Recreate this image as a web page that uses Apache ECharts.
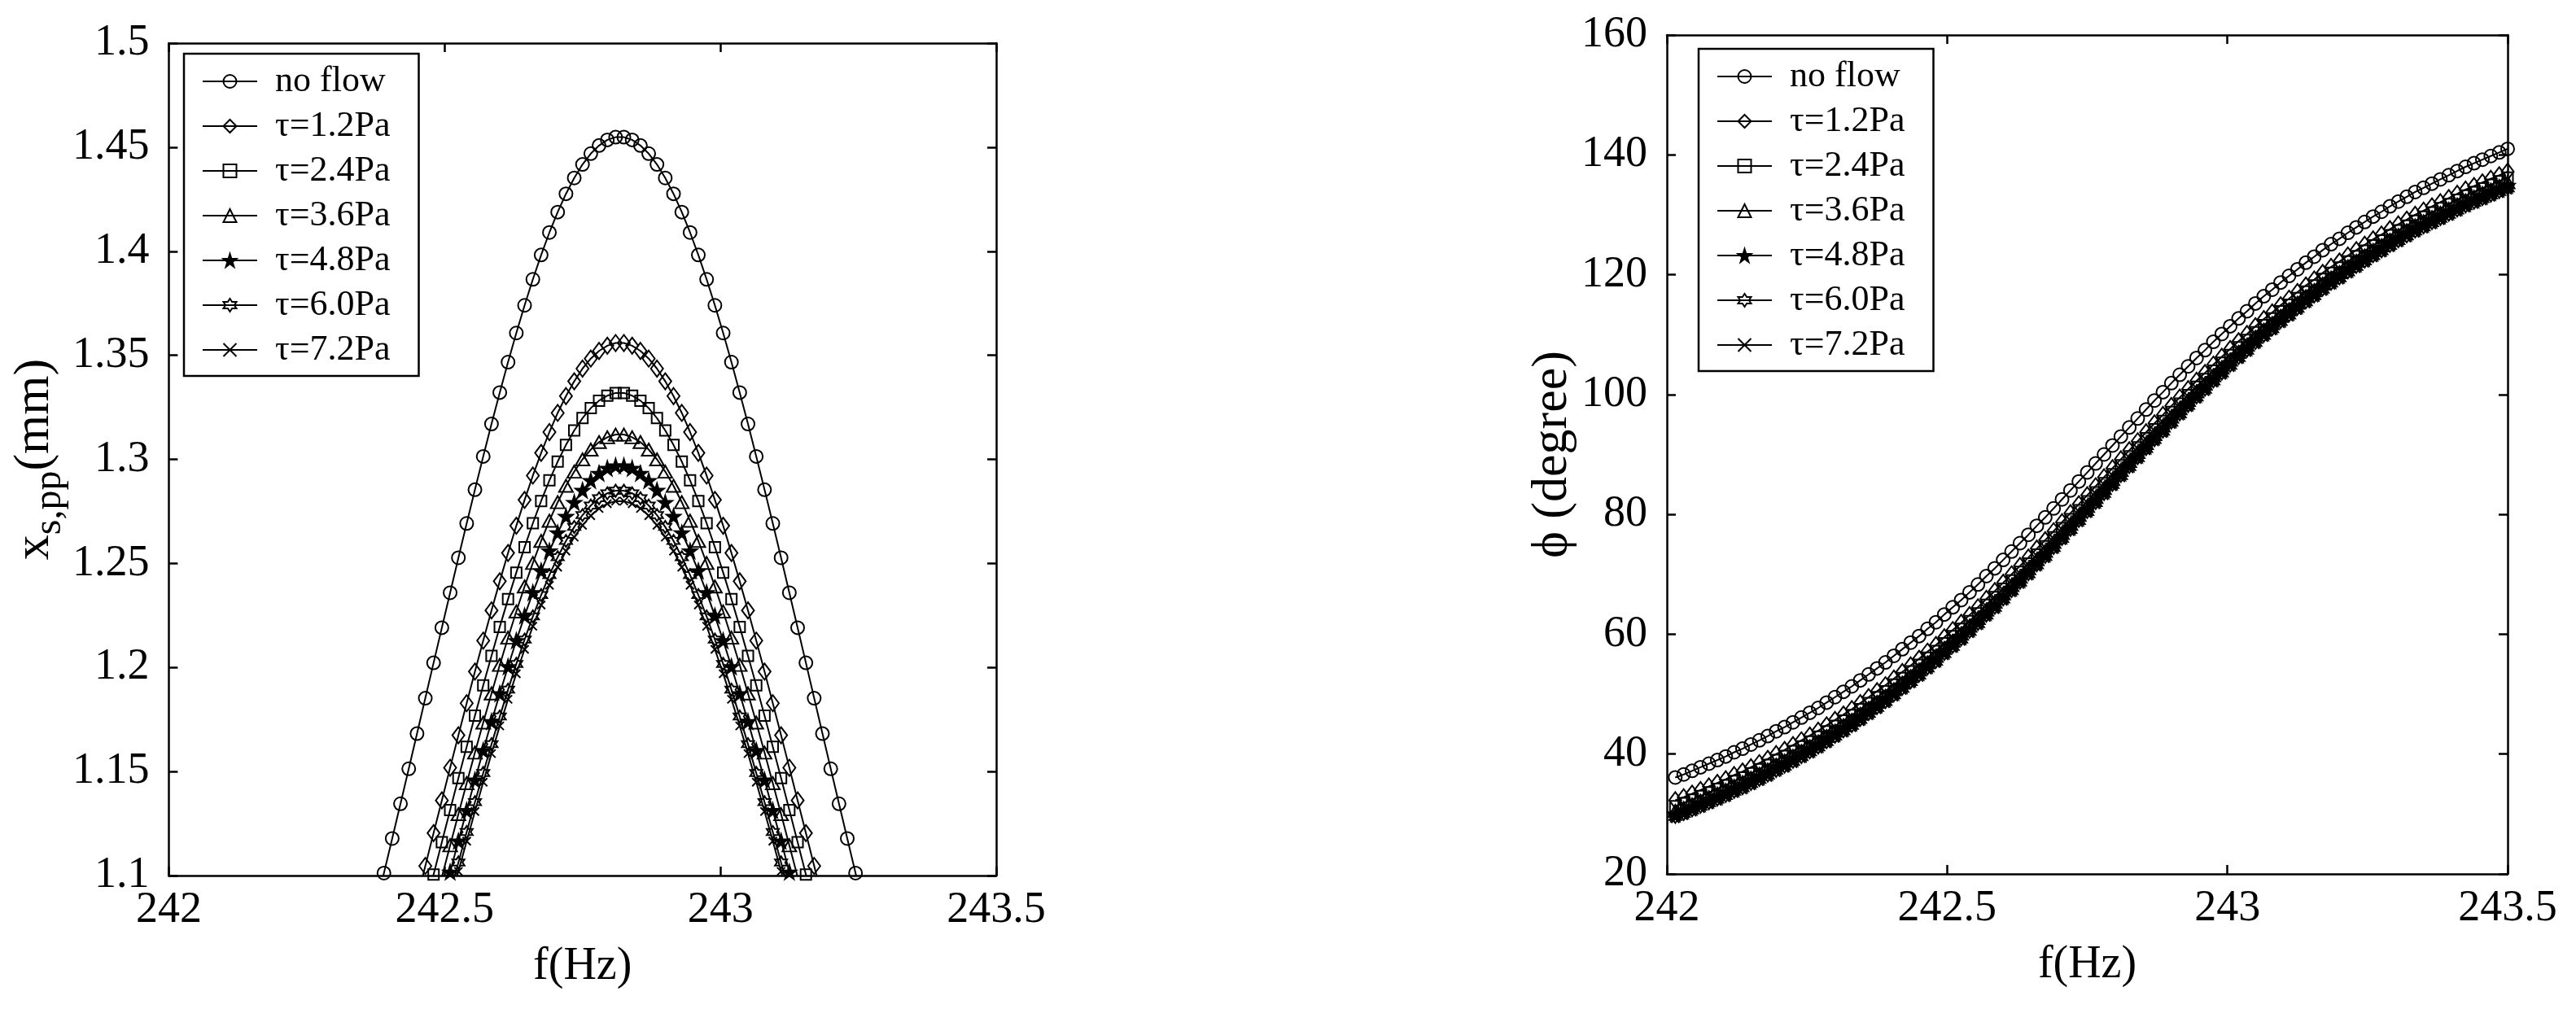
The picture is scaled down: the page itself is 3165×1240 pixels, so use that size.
<!DOCTYPE html>
<html><head><meta charset="utf-8">
<script src="https://cdn.jsdelivr.net/npm/echarts@6/dist/echarts.min.js"></script>
<style>html,body{margin:0;padding:0;background:#fff}#c{width:3165px;height:1240px}</style>
</head><body><div id="c"></div>
<script>
// Frequency samples (Hz)
const freq = [
242.015,242.03,242.045,242.06,242.075,242.09,242.105,242.12,242.135,242.15,
242.165,242.18,242.195,242.21,242.225,242.24,242.255,242.27,242.285,242.3,
242.315,242.33,242.345,242.36,242.375,242.39,242.405,242.42,242.435,242.45,
242.465,242.48,242.495,242.51,242.525,242.54,242.555,242.57,242.585,242.6,
242.615,242.63,242.645,242.66,242.675,242.69,242.705,242.72,242.735,242.75,
242.765,242.78,242.795,242.81,242.825,242.84,242.855,242.87,242.885,242.9,
242.915,242.93,242.945,242.96,242.975,242.99,243.005,243.02,243.035,243.05,
243.065,243.08,243.095,243.11,243.125,243.14,243.155,243.17,243.185,243.2,
243.215,243.23,243.245,243.26,243.275,243.29,243.305,243.32,243.335,243.35,
243.365,243.38,243.395,243.41,243.425,243.44,243.455,243.47,243.485,243.5];

const seriesNames = ['no flow','τ=1.2Pa','τ=2.4Pa','τ=3.6Pa','τ=4.8Pa','τ=6.0Pa','τ=7.2Pa'];

// Amplitude x_s,pp (mm): values start at freq index given by *From
const ampNoFlowFrom = 24;
const ampNoFlow = [1.0848,1.1012,1.1178,1.1345,1.1513,1.1682,1.1852,1.2022,1.2191,1.2359,
1.2527,1.2692,1.2854,1.3014,1.3170,1.3321,1.3467,1.3607,1.3740,1.3865,
1.3982,1.4090,1.4188,1.4276,1.4352,1.4417,1.4469,1.4508,1.4535,1.4548,
1.4548,1.4535,1.4508,1.4469,1.4417,1.4352,1.4276,1.4188,1.4090,1.3982,
1.3865,1.3740,1.3607,1.3467,1.3321,1.3170,1.3014,1.2854,1.2692,1.2527,
1.2359,1.2191,1.2022,1.1852,1.1682,1.1513,1.1345,1.1178,1.1012,1.0848];
const amp12From = 29;
const amp12 = [1.0887,1.1046,1.1204,1.1361,1.1518,1.1674,1.1828,1.1980,1.2129,1.2274,
1.2414,1.2550,1.2681,1.2805,1.2922,1.3031,1.3131,1.3223,1.3304,1.3375,
1.3436,1.3484,1.3521,1.3546,1.3559,
1.3559,1.3546,1.3521,1.3484,1.3436,1.3375,1.3304,1.3223,1.3131,1.3031,
1.2922,1.2805,1.2681,1.2550,1.2414,1.2274,1.2129,1.1980,1.1828,1.1674,
1.1518,1.1361,1.1204,1.1046,1.0887];
const amp24From = 30;
const amp24 = [1.0850,1.1005,1.1160,1.1315,1.1468,1.1619,1.1768,1.1914,1.2056,1.2195,
1.2328,1.2456,1.2578,1.2693,1.2800,1.2899,1.2989,1.3069,1.3139,1.3198,
1.3246,1.3282,1.3306,1.3319,
1.3319,1.3306,1.3282,1.3246,1.3198,1.3139,1.3069,1.2989,1.2899,1.2800,
1.2693,1.2578,1.2456,1.2328,1.2195,1.2056,1.1914,1.1768,1.1619,1.1468,
1.1315,1.1160,1.1005,1.0850];
const amp36From = 32;
const amp36 = [1.0993,1.1145,1.1295,1.1444,1.1591,1.1735,1.1875,1.2012,1.2143,1.2269,
1.2389,1.2502,1.2608,1.2705,1.2794,1.2873,1.2941,1.3000,1.3047,1.3083,
1.3106,1.3119,
1.3119,1.3106,1.3083,1.3047,1.3000,1.2941,1.2873,1.2794,1.2705,1.2608,
1.2502,1.2389,1.2269,1.2143,1.2012,1.1875,1.1735,1.1591,1.1444,1.1295,
1.1145,1.0993];
const amp48From = 32;
const amp48 = [1.0867,1.1017,1.1166,1.1313,1.1459,1.1601,1.1740,1.1874,1.2004,1.2129,
1.2248,1.2360,1.2464,1.2560,1.2647,1.2726,1.2793,1.2851,1.2898,1.2933,
1.2957,1.2969,
1.2969,1.2957,1.2933,1.2898,1.2851,1.2793,1.2726,1.2647,1.2560,1.2464,
1.2360,1.2248,1.2129,1.2004,1.1874,1.1740,1.1601,1.1459,1.1313,1.1166,
1.1017,1.0867];
const amp60From = 33;
const amp60 = [1.0915,1.1063,1.1209,1.1353,1.1493,1.1631,1.1764,1.1893,1.2017,1.2134,
1.2245,1.2348,1.2444,1.2530,1.2608,1.2675,1.2732,1.2778,1.2813,1.2837,
1.2849,
1.2849,1.2837,1.2813,1.2778,1.2732,1.2675,1.2608,1.2530,1.2444,1.2348,
1.2245,1.2134,1.2017,1.1893,1.1764,1.1631,1.1493,1.1353,1.1209,1.1063,
1.0915];
const amp72From = 33;
const amp72 = [1.0873,1.1020,1.1165,1.1308,1.1449,1.1586,1.1719,1.1847,1.1970,1.2087,
1.2198,1.2300,1.2395,1.2482,1.2559,1.2626,1.2683,1.2729,1.2764,1.2787,
1.2799,
1.2799,1.2787,1.2764,1.2729,1.2683,1.2626,1.2559,1.2482,1.2395,1.2300,
1.2198,1.2087,1.1970,1.1847,1.1719,1.1586,1.1449,1.1308,1.1165,1.1020,
1.0873];

// Phase phi (degree), one value per freq sample
const phaseNoFlow = [36.1,36.6,37.2,37.8,38.4,39.0,39.6,40.3,40.9,41.6,
42.3,43.0,43.8,44.5,45.3,46.1,46.9,47.7,48.6,49.5,
50.4,51.3,52.3,53.3,54.3,55.3,56.4,57.5,58.6,59.7,
60.9,62.0,63.3,64.5,65.7,67.0,68.3,69.7,71.0,72.4,
73.8,75.2,76.6,78.1,79.5,81.0,82.5,84.0,85.5,87.0,
88.5,90.0,91.5,93.0,94.5,96.0,97.5,99.0,100.4,101.9,
103.3,104.7,106.1,107.4,108.8,110.1,111.4,112.7,113.9,115.2,
116.4,117.5,118.7,119.8,120.9,122.0,123.0,124.1,125.1,126.0,
127.0,127.9,128.8,129.7,130.5,131.4,132.2,133.0,133.8,134.5,
135.2,135.9,136.6,137.3,138.0,138.6,139.2,139.8,140.4,141.0];
const phase12 = [32.3,32.8,33.4,34.0,34.6,35.2,35.8,36.5,37.1,37.8,
38.5,39.2,40.0,40.7,41.5,42.3,43.1,43.9,44.8,45.7,
46.6,47.5,48.5,49.5,50.5,51.5,52.6,53.7,54.8,55.9,
57.1,58.2,59.5,60.7,61.9,63.2,64.5,65.9,67.2,68.6,
70.0,71.4,72.8,74.3,75.7,77.2,78.7,80.2,81.7,83.2,
84.7,86.2,87.7,89.2,90.7,92.2,93.7,95.2,96.6,98.1,
99.5,100.9,102.3,103.6,105.0,106.3,107.6,108.9,110.1,111.4,
112.6,113.7,114.9,116.0,117.1,118.2,119.2,120.3,121.3,122.2,
123.2,124.1,125.0,125.9,126.7,127.6,128.4,129.2,130.0,130.7,
131.4,132.1,132.8,133.5,134.2,134.8,135.4,136.0,136.6,137.2];
const phase24 = [31.3,31.8,32.4,33.0,33.6,34.2,34.8,35.5,36.1,36.8,
37.5,38.2,39.0,39.7,40.5,41.3,42.1,42.9,43.8,44.7,
45.6,46.5,47.5,48.5,49.5,50.5,51.6,52.7,53.8,54.9,
56.1,57.2,58.5,59.7,60.9,62.2,63.5,64.9,66.2,67.6,
69.0,70.4,71.8,73.3,74.7,76.2,77.7,79.2,80.7,82.2,
83.7,85.2,86.7,88.2,89.7,91.2,92.7,94.2,95.6,97.1,
98.5,99.9,101.3,102.6,104.0,105.3,106.6,107.9,109.1,110.4,
111.6,112.7,113.9,115.0,116.1,117.2,118.2,119.3,120.3,121.2,
122.2,123.1,124.0,124.9,125.7,126.6,127.4,128.2,129.0,129.7,
130.4,131.1,131.8,132.5,133.2,133.8,134.4,135.0,135.6,136.2];
const phase36 = [30.5,31.0,31.6,32.2,32.8,33.4,34.0,34.7,35.3,36.0,
36.7,37.4,38.2,38.9,39.7,40.5,41.3,42.1,43.0,43.9,
44.8,45.7,46.7,47.7,48.7,49.7,50.8,51.9,53.0,54.1,
55.3,56.4,57.7,58.9,60.1,61.4,62.7,64.1,65.4,66.8,
68.2,69.6,71.0,72.5,73.9,75.4,76.9,78.4,79.9,81.4,
82.9,84.4,85.9,87.4,88.9,90.4,91.9,93.4,94.8,96.3,
97.7,99.1,100.5,101.8,103.2,104.5,105.8,107.1,108.3,109.6,
110.8,111.9,113.1,114.2,115.3,116.4,117.4,118.5,119.5,120.4,
121.4,122.3,123.2,124.1,124.9,125.8,126.6,127.4,128.2,128.9,
129.6,130.3,131.0,131.7,132.4,133.0,133.6,134.2,134.8,135.4];
const phase48 = [30.0,30.5,31.1,31.7,32.3,32.9,33.5,34.2,34.8,35.5,
36.2,36.9,37.7,38.4,39.2,40.0,40.8,41.6,42.5,43.4,
44.3,45.2,46.2,47.2,48.2,49.2,50.3,51.4,52.5,53.6,
54.8,55.9,57.2,58.4,59.6,60.9,62.2,63.6,64.9,66.3,
67.7,69.1,70.5,72.0,73.4,74.9,76.4,77.9,79.4,80.9,
82.4,83.9,85.4,86.9,88.4,89.9,91.4,92.9,94.3,95.8,
97.2,98.6,100.0,101.3,102.7,104.0,105.3,106.6,107.8,109.1,
110.3,111.4,112.6,113.7,114.8,115.9,116.9,118.0,119.0,119.9,
120.9,121.8,122.7,123.6,124.4,125.3,126.1,126.9,127.7,128.4,
129.1,129.8,130.5,131.2,131.9,132.5,133.1,133.7,134.3,134.9];
const phase60 = [29.5,30.0,30.6,31.2,31.8,32.4,33.0,33.7,34.3,35.0,
35.7,36.4,37.2,37.9,38.7,39.5,40.3,41.1,42.0,42.9,
43.8,44.7,45.7,46.7,47.7,48.7,49.8,50.9,52.0,53.1,
54.3,55.4,56.7,57.9,59.1,60.4,61.7,63.1,64.4,65.8,
67.2,68.6,70.0,71.5,72.9,74.4,75.9,77.4,78.9,80.4,
81.9,83.4,84.9,86.4,87.9,89.4,90.9,92.4,93.8,95.3,
96.7,98.1,99.5,100.8,102.2,103.5,104.8,106.1,107.3,108.6,
109.8,110.9,112.1,113.2,114.3,115.4,116.4,117.5,118.5,119.4,
120.4,121.3,122.2,123.1,123.9,124.8,125.6,126.4,127.2,127.9,
128.6,129.3,130.0,130.7,131.4,132.0,132.6,133.2,133.8,134.4];
const phase72 = [29.2,29.7,30.3,30.9,31.5,32.1,32.7,33.4,34.0,34.7,
35.4,36.1,36.9,37.6,38.4,39.2,40.0,40.8,41.7,42.6,
43.5,44.4,45.4,46.4,47.4,48.4,49.5,50.6,51.7,52.8,
54.0,55.1,56.4,57.6,58.8,60.1,61.4,62.8,64.1,65.5,
66.9,68.3,69.7,71.2,72.6,74.1,75.6,77.1,78.6,80.1,
81.6,83.1,84.6,86.1,87.6,89.1,90.6,92.1,93.5,95.0,
96.4,97.8,99.2,100.5,101.9,103.2,104.5,105.8,107.0,108.3,
109.5,110.6,111.8,112.9,114.0,115.1,116.1,117.2,118.2,119.1,
120.1,121.0,121.9,122.8,123.6,124.5,125.3,126.1,126.9,127.6,
128.3,129.0,129.7,130.4,131.1,131.7,132.3,132.9,133.5,134.1];

// Axis ranges and ticks
const ampTicks = {min: 1.1, max: 1.5, interval: 0.05};
const phaseTicks = {min: 20, max: 160, interval: 20};
const freqTicks = {min: 242, max: 243.5, interval: 0.5};

const ampSets = [[ampNoFlow, ampNoFlowFrom],[amp12, amp12From],[amp24, amp24From],[amp36, amp36From],[amp48, amp48From],[amp60, amp60From],[amp72, amp72From]];
const phaseSets = [phaseNoFlow, phase12, phase24, phase36, phase48, phase60, phase72];

const FONT = 'Liberation Serif';
const markerDefs = [
  {symbol: 'circle', symbolSize: 16, fill: 'transparent'},
  {symbol: 'diamond', symbolSize: [15, 20], fill: 'transparent'},
  {symbol: 'rect', symbolSize: 13, fill: 'transparent'},
  {symbol: 'triangle', symbolSize: [17, 15], fill: 'transparent'},
  {symbol: 'path://M50,0L61.23,34.55L97.55,34.55L68.17,55.9L79.39,90.45L50,69.1L20.61,90.45L31.83,55.9L2.45,34.55L38.77,34.55Z', symbolSize: 17, fill: '#000'},
  {symbol: 'path://M50,0L64.43,25L93.3,25L78.87,50L93.3,75L64.43,75L50,100L35.57,75L6.7,75L21.13,50L6.7,25L35.57,25Z', symbolSize: 15, fill: 'transparent'},
  {symbol: 'path://M0,0L10,10M10,0L0,10', symbolSize: 10, fill: 'transparent'}
];

function pairs(vals, from) { return vals.map((v, i) => [freq[from + i], v]); }

const lineW = 2.5;
function baseAxis(extra) {
  return Object.assign({
    type: 'value',
    axisLine: {show: true, onZero: false, lineStyle: {color: '#000', width: lineW}},
    axisTick: {show: true, inside: true, length: 11, lineStyle: {color: '#000', width: lineW}},
    splitLine: {show: false},
    axisLabel: {color: '#000', fontFamily: FONT, fontSize: 54},
    nameTextStyle: {color: '#000', fontFamily: FONT, fontSize: 56}
  }, extra);
}
const fmt = v => String(Math.round(v * 100) / 100);

const grids = [
  {left: 200, right: 1941, top: 53, bottom: 164},
  {left: 2048, right: 84, top: 43, bottom: 166}
];

const xAxes = [
  baseAxis(Object.assign({gridIndex: 0, position: 'bottom', name: 'f(Hz)', nameLocation: 'middle', nameGap: 84, axisLabel: {color: '#000', fontFamily: FONT, fontSize: 54, margin: 16, formatter: fmt}}, freqTicks)),
  baseAxis(Object.assign({gridIndex: 0, position: 'top', axisLabel: {show: false}}, freqTicks)),
  baseAxis(Object.assign({gridIndex: 1, position: 'bottom', name: 'f(Hz)', nameLocation: 'middle', nameGap: 84, axisLabel: {color: '#000', fontFamily: FONT, fontSize: 54, margin: 16, formatter: fmt}}, freqTicks)),
  baseAxis(Object.assign({gridIndex: 1, position: 'top', axisLabel: {show: false}}, freqTicks))
];
const yAxes = [
  baseAxis(Object.assign({gridIndex: 0, position: 'left', name: '{m|x}{s|s,pp}{m|(mm)}', nameLocation: 'middle', nameGap: 90, nameRotate: 90,
    nameTextStyle: {color: '#000', fontFamily: FONT, fontSize: 62, rich: {
      m: {fontFamily: FONT, fontSize: 62, color: '#000', lineHeight: 68},
      s: {fontFamily: FONT, fontSize: 48, color: '#000', lineHeight: 34, padding: [36, 0, 0, 0]}}},
    axisLabel: {color: '#000', fontFamily: FONT, fontSize: 54, margin: 24, formatter: fmt}}, ampTicks)),
  baseAxis(Object.assign({gridIndex: 0, position: 'right', axisLabel: {show: false}}, ampTicks)),
  baseAxis(Object.assign({gridIndex: 1, position: 'left', name: 'ϕ (degree)', nameLocation: 'middle', nameGap: 76, nameRotate: 90,
    nameTextStyle: {color: '#000', fontFamily: FONT, fontSize: 62},
    axisLabel: {color: '#000', fontFamily: FONT, fontSize: 54, margin: 24, formatter: fmt}}, phaseTicks)),
  baseAxis(Object.assign({gridIndex: 1, position: 'right', axisLabel: {show: false}}, phaseTicks))
];

const series = [];
seriesNames.forEach((name, i) => {
  const m = markerDefs[i];
  const common = {
    name, type: 'line', symbol: m.symbol, symbolSize: m.symbolSize, showSymbol: true,
    lineStyle: {color: '#000', width: 2},
    itemStyle: {color: m.fill, borderColor: '#000', borderWidth: 2},
    emphasis: {disabled: true}, animation: false, z: 2 + i
  };
  series.push(Object.assign({}, common, {xAxisIndex: 0, yAxisIndex: 0, clip: true, data: pairs(ampSets[i][0], ampSets[i][1])}));
  series.push(Object.assign({}, common, {xAxisIndex: 2, yAxisIndex: 2, clip: false, data: pairs(phaseSets[i], 0)}));
});

function legendAt(left, top) {
  return {
    left, top, orient: 'vertical', data: seriesNames, selectedMode: false,
    backgroundColor: '#fff', borderColor: '#000', borderWidth: 2.5,
    padding: [12, 35, 10, 22], itemGap: 11, itemWidth: 67, itemHeight: 20,
    textStyle: {color: '#000', fontFamily: FONT, fontSize: 44, lineHeight: 44, padding: [0, 0, 0, 17]},
    z: 20
  };
}

const chart = echarts.init(document.getElementById('c'), null, {renderer: 'canvas'});
chart.setOption({
  backgroundColor: '#fff',
  animation: false,
  grid: grids,
  xAxis: xAxes,
  yAxis: yAxes,
  legend: [legendAt(226, 66), legendAt(2087, 60)],
  series
});
</script></body></html>
